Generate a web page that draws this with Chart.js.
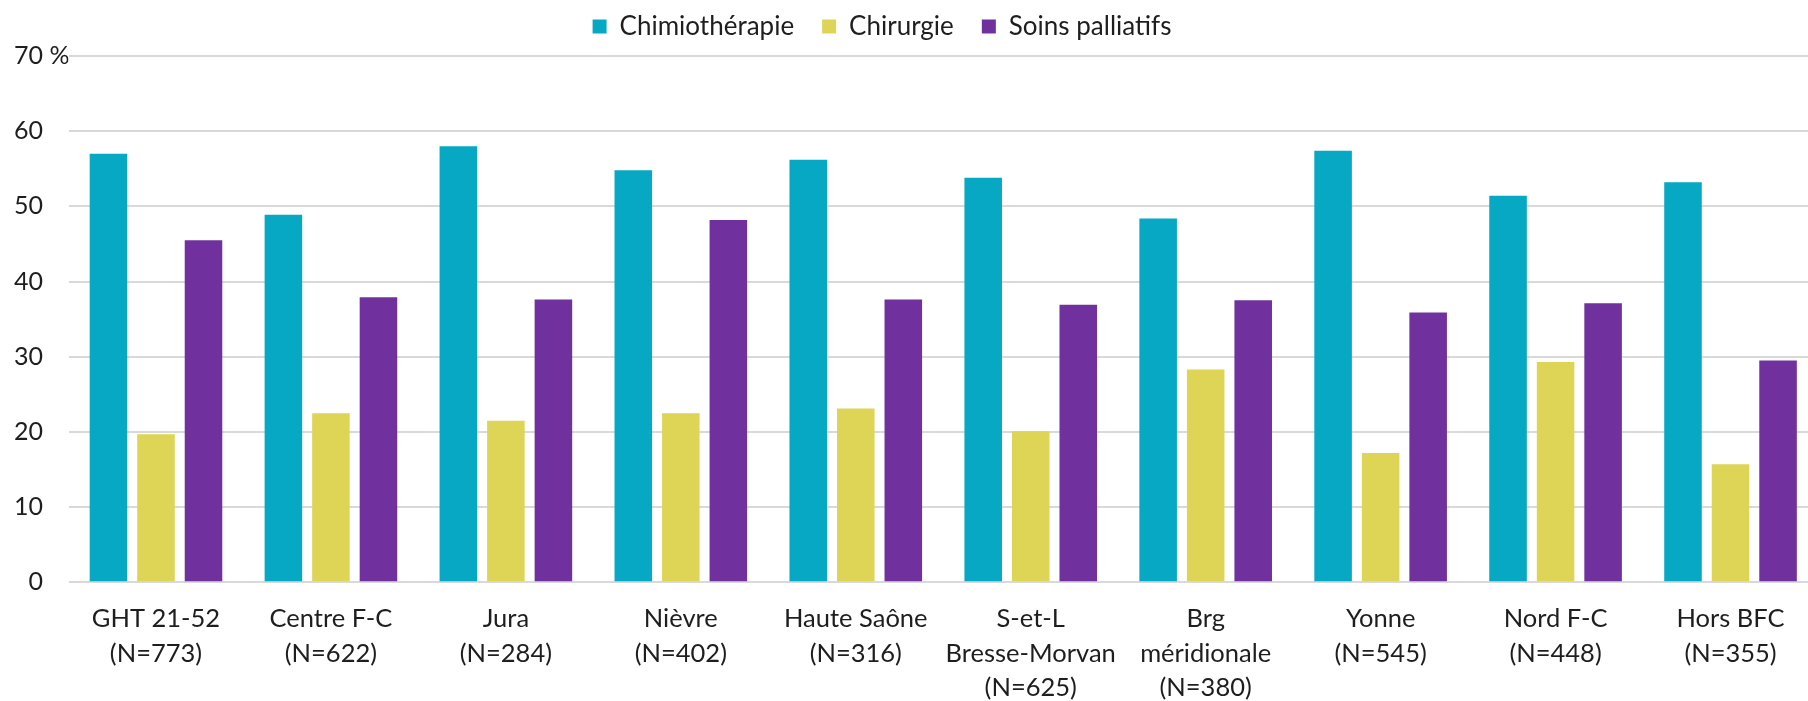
<!DOCTYPE html>
<html>
<head>
<meta charset="utf-8">
<script src="https://cdn.jsdelivr.net/npm/chart.js@4/dist/chart.umd.min.js"></script>
<style>
  html, body { margin: 0; padding: 0; background: #fff; overflow: hidden; }
  #wrap { width: 1818px; height: 701px; }
</style>
</head>
<body>
<div id="wrap"><canvas id="chart1" width="1818" height="701"></canvas></div>
<script>
// categories (multi-line labels)
var categories = [
    ['GHT 21-52', '(N=773)'],
    ['Centre F-C', '(N=622)'],
    ['Jura', '(N=284)'],
    ['Nièvre', '(N=402)'],
    ['Haute Saône', '(N=316)'],
    ['S-et-L', 'Bresse-Morvan', '(N=625)'],
    ['Brg', 'méridionale', '(N=380)'],
    ['Yonne', '(N=545)'],
    ['Nord F-C', '(N=448)'],
    ['Hors BFC', '(N=355)']
];
var chimiotherapie = [57.0, 48.9, 58.0, 54.8, 56.2, 53.8, 48.4, 57.4, 51.4, 53.2];
var chirurgie      = [19.7, 22.5, 21.5, 22.5, 23.1, 20.1, 28.3, 17.2, 29.3, 15.7];
var soinsPalliatifs = [45.5, 37.9, 37.6, 48.2, 37.6, 36.9, 37.5, 35.9, 37.1, 29.5];
var seriesNames = ['Chimiothérapie', 'Chirurgie', 'Soins palliatifs'];
var colors = ['#06a8c3', '#ded556', '#70309e'];

var ctx1 = document.getElementById('chart1');
var FONT = 'Lato, "Open Sans", sans-serif';
var textColor = '#1e1e1e';

// move the legend a bit (the original one is not centred on the canvas)
// only the top moves up, so the legend box gets taller and nothing is clipped
var legendShift = {
    id: 'legendShift',
    afterLayout: function(chart) {
        var lg = chart.legend;
        if (!lg) return;
        lg.left -= 34; lg.right -= 34;
        lg.top -= 21.5;
    }
};

var chartData = {
    labels: categories,
    datasets: [{
        label: seriesNames[0],
        data: chimiotherapie,
        backgroundColor: colors[0]
    }, {
        label: seriesNames[1],
        data: chirurgie,
        backgroundColor: colors[1]
    }, {
        label: seriesNames[2],
        data: soinsPalliatifs,
        backgroundColor: colors[2]
    }]
};

var config = {
    type: 'bar',
    data: chartData,
    plugins: [legendShift],
    options: {
        responsive: false,
        animation: false,
        devicePixelRatio: 1,
        layout: {
            padding: { left: 14, right: 0, top: 7, bottom: 0 }
        },
        datasets: {
            bar: {
                categoryPercentage: 0.815,
                barPercentage: 0.79
            }
        },
        plugins: {
            title: { display: false },
            tooltip: { enabled: false },
            legend: {
                position: 'top',
                maxHeight: 49,
                labels: {
                    boxWidth: 14,
                    boxHeight: 14,
                    padding: 28,
                    color: textColor,
                    font: { family: FONT, size: 26 }
                }
            }
        },
        scales: {
            x: {
                grid: { display: false, drawTicks: false },
                border: { display: false },
                ticks: {
                    autoSkip: false,
                    maxRotation: 0,
                    padding: 19,
                    color: textColor,
                    font: { family: FONT, size: 25.5, lineHeight: 1.36 }
                },
                afterFit: function(scale) { scale.height = 118.7; }
            },
            y: {
                min: 0,
                max: 70,
                border: { display: false },
                grid: {
                    color: '#d9d9d9',
                    lineWidth: 2,
                    drawTicks: false
                },
                ticks: {
                    stepSize: 10,
                    crossAlign: 'far',
                    padding: 0,
                    color: textColor,
                    font: { family: FONT, size: 25 },
                    callback: function(value) {
                        if (value === 70) return '70 %';
                        if (value === 0) return '\u20070';
                        return value;
                    }
                },
                afterFit: function(scale) { scale.width = 54.5; }
            }
        }
    }
};

var chart1 = new Chart(ctx1, config);
</script>
</body>
</html>
